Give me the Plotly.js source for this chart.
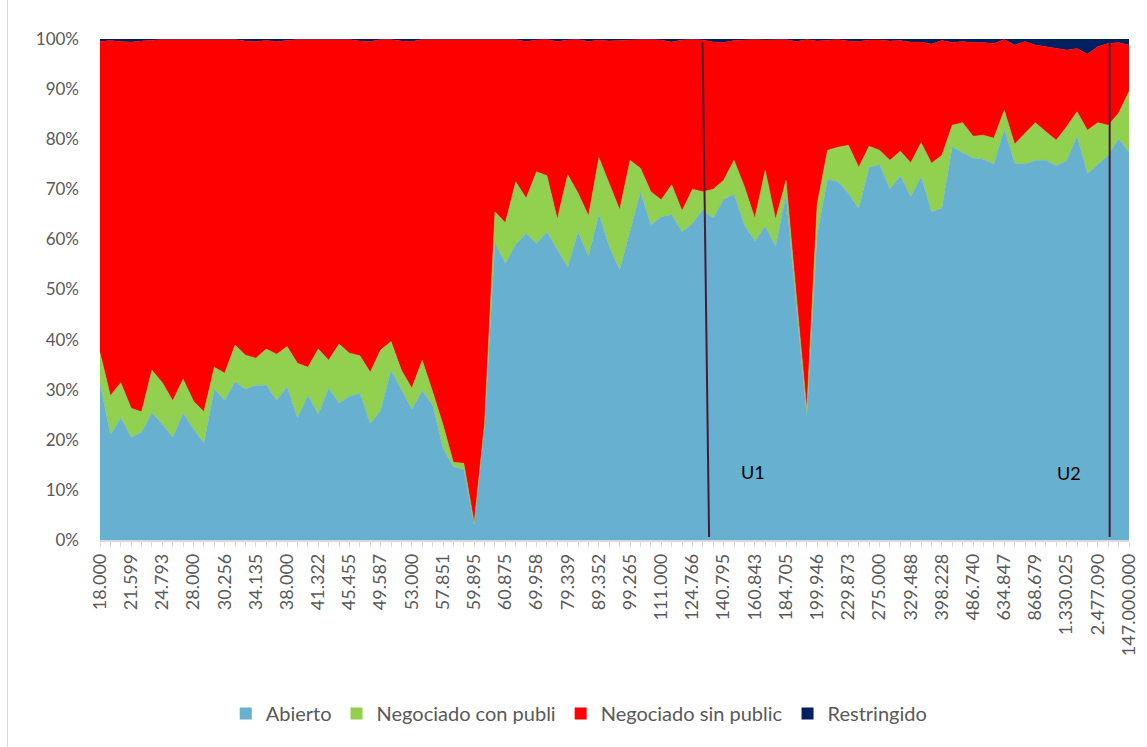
<!DOCTYPE html>
<html>
<head>
<meta charset="utf-8">
<script src="https://cdn.plot.ly/plotly-3.0.1.min.js"></script>
<style>
  html, body { margin: 0; padding: 0; background: #ffffff; }
  #wrap { position: relative; width: 1147px; height: 747px; }
  #chart { width: 1147px; height: 747px; }
  #edge { position: absolute; left: 7px; top: 0; width: 1px; height: 747px; background: #d9d9d9; }
</style>
</head>
<body>
<div id="wrap"><div id="chart"></div><div id="edge"></div></div>
<script>
// Tick labels (every third category of 100)
const tickLabels = ["18.000","21.599","24.793","28.000","30.256","34.135","38.000","41.322","45.455","49.587",
  "53.000","57.851","59.895","60.875","69.958","79.339","89.352","99.265","111.000","124.766",
  "140.795","160.843","184.705","199.946","229.873","275.000","329.488","398.228","486.740","634.847",
  "868.679","1.330.025","2.477.090","147.000.000"];

// Series values (% of each category)
const abierto = [31.3,21.0,24.4,20.5,21.5,25.4,23.1,20.5,25.3,22.1,
  19.3,30.1,27.9,31.6,30.1,30.9,30.9,27.9,30.6,24.3,
  28.9,25.1,30.3,27.3,28.7,29.3,23.2,25.9,33.9,29.9,
  26.1,29.8,26.9,18.3,14.6,14.1,3.0,22.6,59.2,55.2,
  59.0,61.2,59.2,61.5,57.9,54.4,61.5,56.6,65.0,58.5,
  53.9,61.9,69.4,62.9,64.5,64.9,61.5,63.2,65.9,64.2,
  68.0,69.0,62.8,59.7,62.6,58.6,68.8,46.5,24.6,61.0,
  72.0,71.5,69.2,66.1,74.4,74.9,70.0,72.7,68.5,72.5,
  65.5,66.2,78.5,77.3,76.2,76.0,75.0,82.0,75.2,75.0,
  75.8,75.8,74.7,75.7,80.6,73.1,75.0,76.8,80.0,77.5];
const negConPubli = [6.1,7.8,7.0,5.8,4.1,8.5,8.3,7.3,6.8,5.6,
  6.3,4.4,5.4,7.3,6.8,5.4,7.2,9.2,8.0,11.0,
  5.6,13.0,5.6,11.8,8.6,7.5,10.3,12.0,5.7,4.0,
  4.2,6.1,2.7,4.7,0.9,1.2,0.4,0.7,6.3,8.1,
  12.5,7.0,14.3,11.2,6.1,18.5,7.7,8.1,11.3,12.7,
  12.0,13.9,4.8,6.6,3.4,6.0,4.2,6.8,3.6,5.8,
  3.8,6.8,7.7,4.5,11.2,5.4,3.0,2.0,1.4,6.0,
  5.8,6.9,9.6,8.3,4.2,2.9,5.8,4.9,6.8,6.8,
  9.7,10.6,4.3,6.0,4.4,4.8,5.2,3.8,3.8,6.2,
  7.5,5.7,5.1,6.8,4.9,8.7,8.3,6.0,5.2,12.0];
const negSinPublic = [62.1,70.9,68.1,73.1,74.0,65.9,68.5,72.1,67.8,72.2,
  74.3,65.4,66.6,61.0,62.7,63.2,61.6,62.4,61.1,64.6,
  65.4,61.8,64.0,60.8,62.6,62.8,66.0,62.0,60.3,65.7,
  69.2,64.0,70.3,76.9,84.4,84.6,96.5,76.6,34.4,36.5,
  28.4,31.3,26.3,27.2,35.5,26.9,30.7,34.8,23.5,28.4,
  33.8,24.1,25.7,30.4,31.9,28.5,34.1,29.9,30.3,29.4,
  27.5,23.9,29.3,35.7,26.0,35.8,28.1,51.0,73.9,32.6,
  22.0,21.5,20.8,25.1,21.2,22.0,23.8,22.1,24.1,20.1,
  23.8,22.9,16.5,16.2,18.7,18.5,18.9,14.1,19.8,18.3,
  15.5,17.0,18.3,15.3,12.6,15.2,15.2,16.3,14.1,9.3];
const restringido = [0.5,0.3,0.5,0.6,0.4,0.2,0.1,0.1,0.1,0.1,
  0.1,0.1,0.1,0.1,0.4,0.5,0.3,0.5,0.3,0.1,
  0.1,0.1,0.1,0.1,0.1,0.4,0.5,0.1,0.1,0.4,
  0.5,0.1,0.1,0.1,0.1,0.1,0.1,0.1,0.1,0.2,
  0.1,0.5,0.2,0.1,0.5,0.2,0.1,0.5,0.2,0.4,
  0.3,0.1,0.1,0.1,0.2,0.6,0.2,0.1,0.2,0.6,
  0.7,0.3,0.2,0.1,0.2,0.2,0.1,0.5,0.1,0.4,
  0.2,0.1,0.4,0.5,0.2,0.2,0.4,0.3,0.6,0.6,
  1.0,0.3,0.7,0.5,0.7,0.7,0.9,0.1,1.2,0.5,
  1.2,1.5,1.9,2.2,1.9,3.0,1.5,0.9,0.7,1.2];

const seriesNames = ["Abierto","Negociado con publi","Negociado sin public","Restringido"];
const seriesColors = ["#67b0cf","#92d050","#ff0000","#002060"];

// Reference lines (in category-index units)
const u1 = {x0: 57.97, x1: 58.6, label: "U1", lx: 62.8, ly: 13.6};
const u2 = {x0: 97.14, x1: 97.14, label: "U2", lx: 93.2, ly: 13.4};

const idx = abierto.map((_, i) => i);
const tickText = idx.map(i => (i % 3 === 0 ? tickLabels[i / 3] : ""));

const allSeries = [abierto, negConPubli, negSinPublic, restringido];
const traces = allSeries.map((vals, k) => ({
  type: "scatter",
  mode: "lines",
  x: idx,
  y: vals,
  name: seriesNames[k],
  stackgroup: "one",
  line: {width: 0.5, color: seriesColors[k], shape: "linear"},
  fillcolor: seriesColors[k],
  showlegend: false,
  hoverinfo: "x+y+name"
}));

// Legend-only entries with square swatches
const legendTraces = seriesNames.map((nm, k) => ({
  type: "scatter",
  mode: "markers",
  x: [null], y: [null],
  name: nm,
  marker: {symbol: "square", size: 12, color: seriesColors[k]},
  showlegend: true,
  hoverinfo: "skip"
}));

const FONT = "Lato, 'Open Sans', sans-serif";
const lineColor = "#4a1b38";

const layout = {
  width: 1147, height: 747,
  margin: {l: 100, r: 18, t: 39, b: 207},
  paper_bgcolor: "#ffffff",
  plot_bgcolor: "#ffffff",
  font: {family: FONT, color: "#595959", size: 17},
  showlegend: true,
  legend: {
    orientation: "h",
    xref: "container", yref: "container",
    x: 0.505, xanchor: "center",
    y: 0.045, yanchor: "middle",
    font: {family: FONT, size: 20, color: "#595959"},
    itemwidth: 30,
    traceorder: "normal"
  },
  xaxis: {
    type: "linear",
    range: [0, 99],
    tickmode: "array",
    tickvals: idx,
    ticktext: tickText,
    tickangle: -90,
    ticks: "outside",
    ticklen: 5,
    tickcolor: "#d9d9d9",
    showline: true,
    linecolor: "#d9d9d9",
    linewidth: 1.5,
    showgrid: false,
    zeroline: false,
    tickfont: {family: FONT, size: 18, color: "#595959"},
    fixedrange: true
  },
  yaxis: {
    range: [0, 100],
    tickmode: "linear",
    tick0: 0,
    dtick: 10,
    ticksuffix: "%",
    showgrid: false,
    zeroline: false,
    showline: false,
    ticks: "",
    ticklabelstandoff: 20,
    tickfont: {family: FONT, size: 17, color: "#595959"},
    fixedrange: true
  },
  shapes: [u1, u2].map(u => ({
    type: "line", xref: "x", yref: "y",
    x0: u.x0, y0: 99.4, x1: u.x1, y1: 0.6,
    line: {color: lineColor, width: 2}
  })),
  annotations: [u1, u2].map(u => ({
    x: u.lx, y: u.ly, xref: "x", yref: "y",
    text: u.label, showarrow: false,
    font: {family: FONT, size: 18, color: "#000000"}
  }))
};

Plotly.newPlot("chart", traces.concat(legendTraces), layout, {displayModeBar: false, staticPlot: true});
</script>
</body>
</html>
